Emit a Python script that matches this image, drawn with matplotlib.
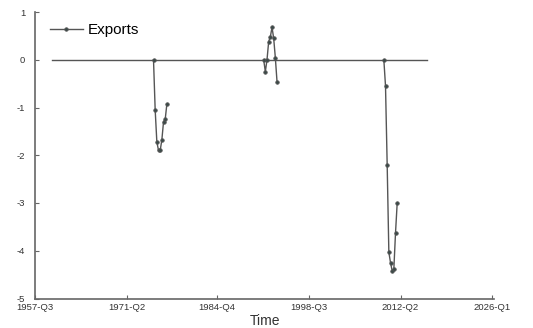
import numpy as np
import matplotlib
matplotlib.use("Agg")
import matplotlib.pyplot as plt

plt.rcParams['font.family'] = ['Liberation Sans', 'DejaVu Sans']

# Quarterly tick labels on the time axis
tick_labels = ["1957-Q3", "1971-Q2", "1984-Q4", "1998-Q3", "2012-Q2", "2026-Q1"]

# Sample span (zero baseline)
sample_start = "1960-Q1"
sample_end = "2016-Q2"

# Episode start quarters and quarterly export responses
ep1_start = "1975-Q2"
ep1_values = [0.0, -1.05, -1.72, -1.9, -1.9, -1.68, -1.3, -1.25, -0.93]
ep2_start = "1991-Q4"
ep2_values = [0.0, -0.25, 0.0, 0.38, 0.48, 0.68, 0.45, 0.04, -0.46]
ep3_start = "2009-Q4"
ep3_values = [0.0, -0.55, -2.2, -4.03, -4.25, -4.42, -4.38, -3.62, -3.0]


def qindex(label):
    year, q = label.split("-Q")
    return (int(year) - 1957) * 4 + (int(q) - 3)


fig = plt.figure(figsize=(5.33, 3.28), dpi=100)
ax = fig.add_axes([35 / 533, 29.5 / 328, 459 / 533, 286.5 / 328])

# zero baseline over the sample
ax.plot([qindex(sample_start), qindex(sample_end)], [0, 0],
        color="#555555", lw=1.0, zorder=1)

xs, ys = [], []
for start, vals in [(ep1_start, ep1_values), (ep2_start, ep2_values), (ep3_start, ep3_values)]:
    s = qindex(start)
    xs += list(range(s, s + len(vals))) + [np.nan]
    ys += list(vals) + [np.nan]

ax.plot(xs, ys, color="#555555", lw=1.0, marker="o", markersize=2.5,
        markerfacecolor="#3a4a48", markeredgecolor="#555555",
        markeredgewidth=0.6, label="Exports", zorder=2)

ax.set_xlim(0, 275)
ax.set_ylim(-5, 1)
ax.set_xticks([qindex(t) for t in tick_labels])
ax.set_xticklabels(tick_labels)
ax.set_yticks([-5, -4, -3, -2, -1, 0, 1])
ax.set_yticklabels(["-5", "-4", "-3", "-2", "-1", "0", "1"])

for side in ["top", "right"]:
    ax.spines[side].set_visible(False)
for side in ["left", "bottom"]:
    ax.spines[side].set_color("#666666")
    ax.spines[side].set_linewidth(1.2)

ax.tick_params(direction="in", length=3, width=0.8, colors="#666666",
               labelcolor="#333333", labelsize=6.8)
ax.tick_params(axis="y", pad=7)
ax.tick_params(axis="x", pad=3.5)
ax.set_xlabel("Time", fontsize=10, color="#333333", labelpad=1)

ax.legend(loc="center left", frameon=False, fontsize=11, handlelength=2.15,
          bbox_to_anchor=(50 / 533, (328 - 30) / 328),
          bbox_transform=fig.transFigure, borderpad=0, borderaxespad=0,
          handletextpad=0.3)

fig.savefig("out.png", dpi=100, facecolor="white")
